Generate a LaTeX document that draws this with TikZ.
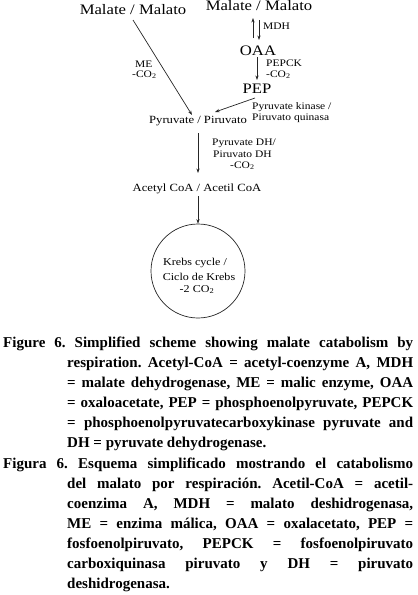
\documentclass[tikz,border=0pt]{standalone}
\usepackage{fontspec}
\setmainfont{Liberation Serif}
\newfontfamily\dfont{Liberation Serif}[FakeStretch=1.15]
\usetikzlibrary{arrows.meta,calc}
\newcommand\capfont{\bfseries\frenchspacing\fontsize{15}{18}\selectfont}
\tikzset{
  big/.style={font=\dfont\fontsize{14.5}{16}\selectfont, inner sep=0pt},
  med/.style={font=\dfont\fontsize{11}{13}\selectfont, inner sep=0pt},
  lbl/.style={font=\dfont\fontsize{10}{12}\selectfont, inner sep=0pt, anchor=base west},
  krb/.style={font=\dfont\fontsize{10.5}{12}\selectfont, inner sep=0pt, anchor=base},
  arr/.style={-{Stealth[length=4.5pt,width=3.2pt]}, line width=0.7pt, draw=black!85},
  capline/.style={font=\capfont, inner sep=0pt, anchor=base west},
}
\begin{document}
\begin{tikzpicture}[x=1pt,y=-1pt]
\useasboundingbox (0,0) rectangle (418,595);
% main nodes
\node[big, anchor=base] (malL) at (133,14) {Malate / Malato};
\node[big, anchor=base] (malR) at (259,10.5) {Malate / Malato};
\node[big, anchor=base] (oaa) at (258,55) {OAA};
\node[big, anchor=base] (pep) at (257,93) {PEP};
\node[med, anchor=base] (pyr) at (198,123) {Pyruvate / Piruvato};
\node[med, anchor=base] (acc) at (197,191) {Acetyl CoA / Acetil CoA};
\node[circle, draw=black!85, line width=0.7pt, minimum size=94pt, inner sep=0pt] (krebs) at (198,271) {};
\node[krb] (k1) at (195,265) {Krebs cycle /};
\node[krb] (k2) at (199,280) {Ciclo de Krebs};
\node[krb] (k3) at (197,292) {-2 CO\textsubscript{2}};
% labels
\node[lbl] (mdh) at (263,29) {MDH};
\node[lbl] (pepck) at (266,66) {PEPCK};
\node[lbl] (pepckco) at (266,77) {-CO\textsubscript{2}};
\node[lbl] (me) at (135,67) {ME};
\node[lbl] (meco) at (132,77) {-CO\textsubscript{2}};
\node[lbl] (pk1) at (252,109) {Pyruvate kinase /};
\node[lbl] (pk2) at (252,120) {Piruvato quinasa};
\node[lbl] (dh1) at (212,145) {Pyruvate DH/};
\node[lbl] (dh2) at (213,157) {Piruvato DH};
\node[lbl] (dhco) at (230,168) {-CO\textsubscript{2}};
% connectors
\draw[arr] ($(malL.base)+(0,6)$) -- ($(pyr.base)+(-6,-8)$);
\draw[arr] ($(oaa.base)+(-5,-17)$) -- ($(oaa.base)+(-5,-37)$);
\draw[arr] ($(malR.base)+(0,9.5)$) -- ($(malR.base)+(0,29.5)$);
\draw[arr] ($(oaa.base)+(-1,2)$) -- ($(pep.base)+(0,-13)$);
\draw[arr] ($(pep.base)+(-2,5)$) -- ($(pyr.base)+(17,-11)$);
\draw[arr] ($(pyr.base)+(0,10)$) -- ($(acc.base)+(1,-18)$);
\draw[arr] ($(acc.base)+(1,5)$) -- (krebs.north);
% caption
\node[capline] (c1) at (3,347) {\makebox[410pt][s]{Figure 6. Simplified scheme showing malate catabolism by}};
\node[capline] (c2) at (67,367) {\makebox[346pt][s]{respiration. Acetyl-CoA = acetyl-coenzyme A, MDH}};
\node[capline] (c3) at (67,387) {\makebox[346pt][s]{= malate dehydrogenase, ME = malic enzyme, OAA}};
\node[capline] (c4) at (67,407) {\makebox[346pt][s]{= oxaloacetate, PEP = phosphoenolpyruvate, PEPCK}};
\node[capline] (c5) at (67,427) {\makebox[346pt][s]{= phosphoenolpyruvatecarboxykinase pyruvate and}};
\node[capline] (c6) at (67,447) {DH = pyruvate dehydrogenase.};
\node[capline] (c7) at (3,468) {\makebox[410pt][s]{Figura 6. Esquema simplificado mostrando el catabolismo}};
\node[capline] (c8) at (67,488) {\makebox[346pt][s]{del malato por respiración. Acetil-CoA = acetil-}};
\node[capline] (c9) at (67,508) {\makebox[346pt][s]{coenzima A, MDH = malato deshidrogenasa,}};
\node[capline] (c10) at (67,528) {\makebox[346pt][s]{ME = enzima málica, OAA = oxalacetato, PEP =}};
\node[capline] (c11) at (67,548) {\makebox[346pt][s]{fosfoenolpiruvato, PEPCK = fosfoenolpiruvato}};
\node[capline] (c12) at (67,568) {\makebox[346pt][s]{carboxiquinasa piruvato y DH = piruvato}};
\node[capline] (c13) at (67,588) {deshidrogenasa.};
\end{tikzpicture}
\end{document}
